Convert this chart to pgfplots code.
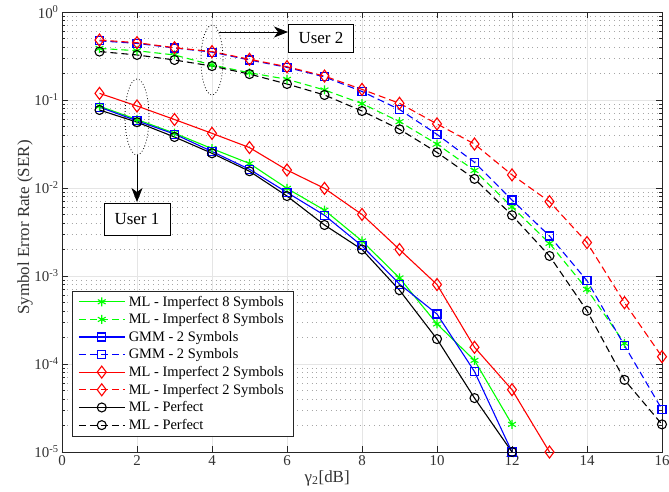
\documentclass[border=0pt]{standalone}
\usepackage{fontspec}
\setmainfont{Liberation Serif}
\usepackage{pgfplots}
\pgfplotsset{compat=1.18}
\usetikzlibrary{arrows.meta}
\definecolor{mgreen}{rgb}{0,1,0}
\definecolor{axgray}{rgb}{0.15,0.15,0.15}
\begin{document}
\begin{tikzpicture}
\begin{semilogyaxis}[
  name=ax, scale only axis, width=600bp, height=440bp,
  xmin=0, xmax=16, ymin=1e-5, ymax=1,
  xtick={0,2,...,16}, xticklabels={0,2,4,6,8,10,12,14,16},
  ytick={1e-5,1e-4,1e-3,1e-2,1e-1,1},
  yticklabels={10\textsuperscript{-5},10\textsuperscript{-4},10\textsuperscript{-3},10\textsuperscript{-2},10\textsuperscript{-1},10\textsuperscript{0}},
  tick label style={font=\fontsize{15}{17}\selectfont, color=black!80},
  tick align=inside, major tick length=6bp, minor tick length=3bp,
  axis line style={color=axgray, line width=0.9bp},
  every tick/.style={color=axgray, line width=0.6bp},
  xmajorgrids, ymajorgrids, yminorgrids,
  major grid style={color=black!10, line width=0.6bp},
  minor grid style={color=black!35, line width=0.6bp, dash pattern=on 0.8bp off 4bp},
  xlabel={γ\textsubscript{2}[dB]},
  xlabel style={at={(axis description cs:0.442,0)}, anchor=base, yshift=-30bp, font=\fontsize{17}{19}\selectfont, color=black!80},
  ylabel={Symbol Error Rate (SER)},
  ylabel style={at={(axis description cs:-0.055,0.51)}, anchor=base, font=\fontsize{17}{19}\selectfont, color=black!80},
  legend style={at={(axis description cs:0.0167,0.036)}, anchor=south west,
    font=\fontsize{14.5}{16}\selectfont, draw=axgray, fill=white,
    inner xsep=6bp, inner ysep=2bp, row sep=0bp,
    nodes={inner ysep=3bp, inner xsep=3.5bp}},
  legend cell align=left,
  legend image code/.code={\draw[mark repeat=2,mark phase=2,#1] plot coordinates {(0bp,0bp) (23bp,0bp) (46bp,0bp)};},
  every axis plot/.append style={line width=1.1bp},
]
% green solid
\addplot[color=mgreen, mark=asterisk, mark size=4.5bp, mark options={solid}] coordinates {
(1,0.085)(2,0.060)(3,0.042)(4,0.028)(5,0.019)(6,0.0099)(7,0.0056)(8,0.0025)(9,0.00095)(10,2.85e-4)(11,1.1e-4)(12,2.06e-5)};
\addlegendentry{ML - Imperfect 8 Symbols}
% green dashed
\addplot[color=mgreen, dash pattern=on 7bp off 4bp, mark=asterisk, mark size=4.5bp, mark options={solid}] coordinates {
(1,0.386)(2,0.363)(3,0.325)(4,0.25)(5,0.204)(6,0.172)(7,0.13)(8,0.091)(9,0.0567)(10,0.0316)(11,0.0158)(12,0.0061)(13,0.00235)(14,7.05e-4)(15,1.72e-4)};
\addlegendentry{ML - Imperfect 8 Symbols}
% blue solid
\addplot[color=blue, mark=square, mark size=4bp, mark options={solid}] coordinates {
(1,0.083)(2,0.058)(3,0.041)(4,0.026)(5,0.0163)(6,0.0089)(7,0.0049)(8,0.0022)(9,0.00081)(10,3.7e-4)(11,8.2e-5)(12,1e-5)};
\addlegendentry{GMM - 2 Symbols}
% blue dashed
\addplot[color=blue, dash pattern=on 7bp off 4bp, mark=square, mark size=4bp, mark options={solid}] coordinates {
(1,0.47)(2,0.44)(3,0.39)(4,0.35)(5,0.285)(6,0.235)(7,0.183)(8,0.125)(9,0.078)(10,0.0407)(11,0.0196)(12,0.0073)(13,0.00285)(14,8.85e-4)(15,1.62e-4)(16,3.05e-5)};
\addlegendentry{GMM - 2 Symbols}
% red solid
\addplot[color=red, mark=diamond, mark size=6bp, mark options={solid}] coordinates {
(1,0.119)(2,0.0855)(3,0.060)(4,0.0418)(5,0.0288)(6,0.016)(7,0.0099)(8,0.005)(9,0.002)(10,8.0e-4)(11,1.55e-4)(12,5.1e-5)(13,1e-5)};
\addlegendentry{ML - Imperfect 2 Symbols}
% red dashed
\addplot[color=red, dash pattern=on 7bp off 4bp, mark=diamond, mark size=6bp, mark options={solid}] coordinates {
(1,0.48)(2,0.448)(3,0.393)(4,0.355)(5,0.29)(6,0.239)(7,0.187)(8,0.132)(9,0.0917)(10,0.0535)(11,0.0316)(12,0.0141)(13,0.007)(14,0.0024)(15,4.97e-4)(16,1.21e-4)};
\addlegendentry{ML - Imperfect 2 Symbols}
% black solid
\addplot[color=black, mark=o, mark size=4.5bp, mark options={solid}] coordinates {
(1,0.077)(2,0.056)(3,0.038)(4,0.0248)(5,0.0155)(6,0.0081)(7,0.0038)(8,0.0020)(9,0.00069)(10,1.92e-4)(11,4.1e-5)(12,1e-5)};
\addlegendentry{ML - Perfect}
% black dashed
\addplot[color=black, dash pattern=on 7bp off 4bp, mark=o, mark size=4.5bp, mark options={solid}] coordinates {
(1,0.355)(2,0.325)(3,0.285)(4,0.243)(5,0.197)(6,0.152)(7,0.114)(8,0.075)(9,0.0465)(10,0.0254)(11,0.0127)(12,0.0049)(13,0.00169)(14,4.03e-4)(15,6.6e-5)(16,2.06e-5)};
\addlegendentry{ML - Perfect}
\end{semilogyaxis}
\begin{scope}[shift={(ax.south west)}, x=1bp, y=1bp]
  \draw[black, line width=0.8bp, dash pattern=on 0.8bp off 2.2bp] (150,392) ellipse [x radius=11, y radius=35];
  \draw[black, line width=0.8bp, -{Stealth[length=14bp,width=11bp,inset=4bp]}] (157,420) -- (226,420);
  \node[draw=black, line width=0.8bp, fill=white, minimum width=65bp, minimum height=28bp, inner sep=0pt, font=\fontsize{17}{19}\selectfont, anchor=west] at (226,414) {User 2};
  \draw[black, line width=0.8bp, dash pattern=on 0.8bp off 2.2bp] (75,335) ellipse [x radius=12, y radius=38];
  \draw[black, line width=0.8bp, -{Stealth[length=14bp,width=11bp,inset=4bp]}] (75,297) -- (75,250);
  \node[draw=black, line width=0.8bp, fill=white, minimum width=66bp, minimum height=32bp, inner sep=0pt, font=\fontsize{17}{19}\selectfont] at (75,233) {User 1};
\end{scope}
\pgfresetboundingbox
\path ([shift={(-62bp,-40bp)}]ax.south west) rectangle ([shift={(7bp,12bp)}]ax.north east);
\end{tikzpicture}
\end{document}
